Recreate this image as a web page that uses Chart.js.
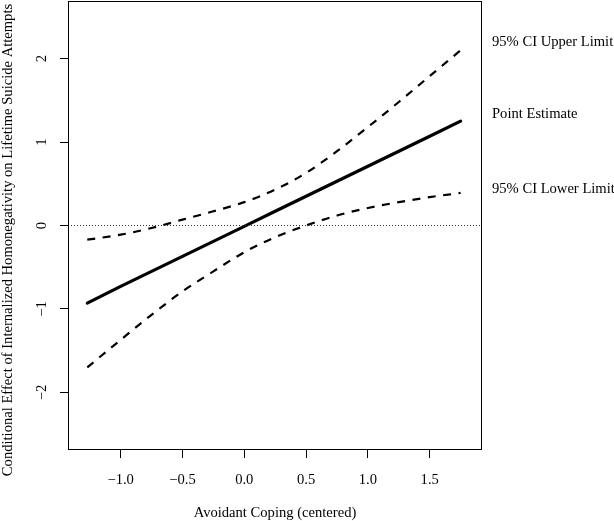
<!DOCTYPE html>
<html><head><meta charset="utf-8">
<script src="https://cdn.jsdelivr.net/npm/chart.js@4.4.1/dist/chart.umd.min.js"></script>
<style>html,body{margin:0;padding:0;background:#fff;} canvas{display:block;}</style>
</head><body>
<canvas id="c" width="614" height="521"></canvas>
<script>
const moderatorX    = [-1.27, -1.0, -0.75, -0.5, -0.25, 0, 0.25, 0.5, 0.75, 1.0, 1.25, 1.5, 1.75];
const pointEstimate = [-0.93, -0.73, -0.55, -0.37, -0.19, -0.01, 0.17, 0.35, 0.53, 0.71, 0.89, 1.07, 1.25];
const upperLimit    = [-0.17, -0.11, -0.03, 0.07, 0.17, 0.28, 0.43, 0.63, 0.89, 1.18, 1.48, 1.79, 2.10];
const lowerLimit    = [-1.70, -1.37, -1.07, -0.79, -0.55, -0.32, -0.14, 0.00, 0.12, 0.21, 0.28, 0.34, 0.39];
const xTicks = [-1.0, -0.5, 0.0, 0.5, 1.0, 1.5];
const yTicks = [-2, -1, 0, 1, 2];
const xRange = [-1.426, 1.923];
const yRange = [-2.69, 2.69];
const referenceY = 0;
const seriesLabels = ['95% CI Upper Limit', 'Point Estimate', '95% CI Lower Limit'];
const seriesLabelY = [2.2, 1.34, 0.44];
const xTitle = 'Avoidant Coping (centered)';
const yTitle = 'Conditional Effect of Internalized Homonegativity on Lifetime Suicide Attempts';

const FONT = '"Liberation Serif", "Times New Roman", serif';
const FS = 14.6;
const toPts = ys => moderatorX.map((x, i) => ({x: x, y: ys[i]}));
const fmtX = v => (v < 0 ? '\u2212' : '') + Math.abs(v).toFixed(1);
const fmtY = v => (v < 0 ? '\u2212' : '') + Math.abs(v);

const boxPlugin = {
  id: 'box',
  afterDraw(chart) {
    const {ctx, chartArea: a} = chart;
    ctx.save();
    ctx.strokeStyle = '#000';
    ctx.lineWidth = 1;
    ctx.strokeRect(Math.round(a.left) + 0.5, Math.round(a.top) + 0.5, Math.round(a.right - a.left) - 1, Math.round(a.bottom - a.top) - 1);
    ctx.restore();
  }
};
const textPlugin = {
  id: 'texts',
  afterDraw(chart) {
    const {ctx, chartArea: a} = chart;
    const ys = chart.scales.y;
    ctx.save();
    ctx.font = FS + 'px ' + FONT;
    ctx.fillStyle = '#000';
    ctx.textAlign = 'left';
    ctx.textBaseline = 'middle';
    seriesLabels.forEach((t, i) => ctx.fillText(t, a.right + 10, ys.getPixelForValue(seriesLabelY[i])));
    // y axis title (rotated), centred as in the reference
    ctx.translate(8.5, 240);
    ctx.rotate(-Math.PI / 2);
    ctx.textAlign = 'center';
    ctx.fillText(yTitle, 0, 0);
    ctx.restore();
  }
};

new Chart(document.getElementById('c'), {
  type: 'line',
  data: {
    datasets: [
      {label: 'zero', data: [{x: xRange[0], y: referenceY}, {x: xRange[1], y: referenceY}], borderColor: '#333', borderWidth: 1, borderDash: [1, 2], pointRadius: 0},
      {label: seriesLabels[0], data: toPts(upperLimit), borderColor: '#000', borderWidth: 2.2, borderDash: [8, 7.5], borderCapStyle: 'butt', pointRadius: 0, cubicInterpolationMode: 'monotone'},
      {label: seriesLabels[1], data: toPts(pointEstimate), borderColor: '#000', borderWidth: 3.2, pointRadius: 0, borderCapStyle: 'round'},
      {label: seriesLabels[2], data: toPts(lowerLimit), borderColor: '#000', borderWidth: 2.2, borderDash: [8, 7.5], borderCapStyle: 'butt', pointRadius: 0, cubicInterpolationMode: 'monotone'}
    ]
  },
  options: {
    responsive: false,
    animation: false,
    events: [],
    layout: {padding: {left: 0, right: 132, top: 1, bottom: 0}},
    plugins: {legend: {display: false}, tooltip: {enabled: false}},
    scales: {
      x: {
        type: 'linear', min: xRange[0], max: xRange[1],
        afterFit(s) { s.height = 71; s.paddingLeft = 0; s.paddingRight = 0; },
        afterBuildTicks(s) { s.ticks = xTicks.map(v => ({value: v})); },
        border: {display: false},
        grid: {display: true, drawOnChartArea: false, drawTicks: true, tickLength: 8, color: '#000', lineWidth: 1},
        ticks: {color: '#000', font: {family: FONT, size: FS}, padding: 13, maxRotation: 0, autoSkip: false, callback: v => fmtX(v)},
        title: {display: true, text: xTitle, color: '#000', font: {family: FONT, size: FS, lineHeight: 1}, padding: {top: 0, bottom: 1}}
      },
      y: {
        type: 'linear', min: yRange[0], max: yRange[1],
        afterFit(s) { s.width = 68; s.paddingTop = 0; s.paddingBottom = 0; },
        afterBuildTicks(s) { s.ticks = yTicks.map(v => ({value: v})); },
        border: {display: false},
        grid: {display: true, drawOnChartArea: false, drawTicks: true, tickLength: 8, color: '#000', lineWidth: 1},
        ticks: {color: '#000', font: {family: FONT, size: FS}, padding: 10, minRotation: 90, maxRotation: 90, crossAlign: 'center', autoSkip: false, callback: v => fmtY(v)},
        title: {display: false}
      }
    }
  },
  plugins: [boxPlugin, textPlugin]
});
</script>
</body></html>
